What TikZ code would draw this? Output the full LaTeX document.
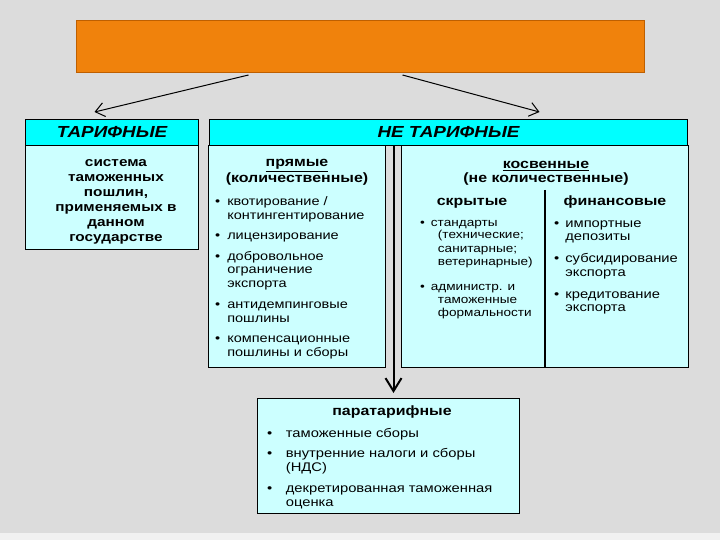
\documentclass[tikz,border=0pt]{standalone}
\usepackage{fontspec}
\setmainfont{Liberation Sans}[FakeStretch=1.18]
\usetikzlibrary{arrows.meta, positioning}

\definecolor{bggray}{RGB}{220,220,220}
\definecolor{titleorange}{RGB}{240,130,12}
\definecolor{titleedge}{RGB}{190,95,0}
\definecolor{headcyan}{RGB}{0,255,255}
\definecolor{bodycyan}{RGB}{204,255,255}

\tikzset{
  box/.style={rectangle, draw=black, line width=1pt, inner sep=0pt, anchor=north west},
  headbox/.style={box, fill=headcyan, font=\fontsize{16}{18}\selectfont\bfseries\itshape},
  bodybox/.style={box, fill=bodycyan},
  title/.style={font=\fontsize{13.5}{15}\selectfont\bfseries, anchor=base, inner sep=0pt},
  list/.style={font=\fontsize{12.3}{13.5}\selectfont, anchor=base west, inner sep=0pt},
  smalllist/.style={list, font=\fontsize{11.5}{13}\selectfont},
  arr/.style={-{Straight Barb[length=9pt,width=14pt]}, line width=1pt},
}

\begin{document}
\begin{tikzpicture}[x=1pt, y=-1pt]
    \fill[bggray] (0,0) rectangle (720,540);
    \useasboundingbox (0,0) rectangle (720,540);
    \fill[white!60!bggray] (0,533) rectangle (720,540);

    % top box
    \node[box, fill=titleorange, draw=titleedge, minimum width=568pt, minimum height=52pt] (osn) at (76,20) {};

    % tariff column
    \node[bodybox, minimum width=173pt, minimum height=104pt] (tarifbody) at (25,145) {};
    \node[headbox, minimum width=173pt, minimum height=26pt] (tarifhead) at (25,119) {ТАРИФНЫЕ};

    % non-tariff columns
    \node[bodybox, minimum width=177pt, minimum height=222pt] (pryam) at (208,145) {};
    \node[bodybox, minimum width=287pt, minimum height=222pt] (kosv) at (401,145) {};
    \node[headbox, minimum width=478pt, minimum height=26pt] (netarifhead) at (209,119) {НЕ ТАРИФНЫЕ};

    \node[bodybox, minimum width=262pt, minimum height=115pt] (paratarif) at (257,398) {};

    \coordinate (divtop) at (545,190);
    \draw[line width=1.5pt] (divtop) -- (divtop |- kosv.south);

    \draw[arr] ([xshift=-112pt, yshift=-2pt]osn.south) -- ([xshift=-17.5pt, yshift=7pt]tarifhead.north);
    \draw[arr] ([xshift=42pt, yshift=-2pt]osn.south) -- ([xshift=91pt, yshift=7pt]netarifhead.north);
    \draw[-{Straight Barb[length=13pt,width=16pt]}, line width=2pt]
        ([xshift=-55pt]netarifhead.south) -- ([xshift=5pt, yshift=5pt]paratarif.north);

    % texts
    \node[title, font=\fontsize{13}{15}\selectfont\bfseries] (tarifdesc) at (116,167) {\begin{tabular}[t]{@{}c@{}}система\\таможенных\\пошлин,\\применяемых в\\данном\\государстве\end{tabular}};

    \node[title] (pryamhead) at (297,167) {\begin{tabular}[t]{@{}c@{}}\underline{прямые}\\[1pt](количественные)\end{tabular}};
    \node[list] (pryamlist) at (215,206) {\begin{tabular}[t]{@{}l@{\hspace{7pt}}l@{}}
        • & квотирование /\\
          & контингентирование\\[7pt]
        • & лицензирование\\[7pt]
        • & добровольное\\
          & ограничение\\
          & экспорта\\[7.5pt]
        • & антидемпинговые\\
          & пошлины\\[7.5pt]
        • & компенсационные\\
          & пошлины и сборы
    \end{tabular}};

    \node[title] (kosvhead) at (546,169) {\begin{tabular}[t]{@{}c@{}}\underline{косвенные}\\[-1pt](не количественные)\end{tabular}};
    \node[title] (skrythead) at (472,206) {скрытые};
    \node[title] (finhead) at (615,206) {финансовые};

    \node[smalllist] (skrytlist) at (420,226) {\begin{tabular}[t]{@{}l@{\hspace{6pt}}l@{}}
        • & стандарты\\
          & \hspace{7pt}(технические;\\
          & \hspace{7pt}санитарные;\\
          & \hspace{7pt}ветеринарные)\\[12.5pt]
        • & администр. и\\
          & \hspace{7pt}таможенные\\
          & \hspace{7pt}формальности
    \end{tabular}};
    \node[list, font=\fontsize{12.5}{13.8}\selectfont] (finlist) at (554,227) {\begin{tabular}[t]{@{}l@{\hspace{6pt}}l@{}}
        • & импортные\\
          & депозиты\\[8pt]
        • & субсидирование\\
          & экспорта\\[8pt]
        • & кредитование\\
          & экспорта
    \end{tabular}};

    \node[title] (parahead) at (392,415) {паратарифные};
    \node[list, font=\fontsize{12.5}{14}\selectfont] (paralist) at (267,437) {\begin{tabular}[t]{@{}l@{\hspace{13.5pt}}l@{}}
        • & таможенные сборы\\[6pt]
        • & внутренние налоги и сборы\\
          & (НДС)\\[7pt]
        • & декретированная таможенная\\
          & оценка
    \end{tabular}};
\end{tikzpicture}
\end{document}
